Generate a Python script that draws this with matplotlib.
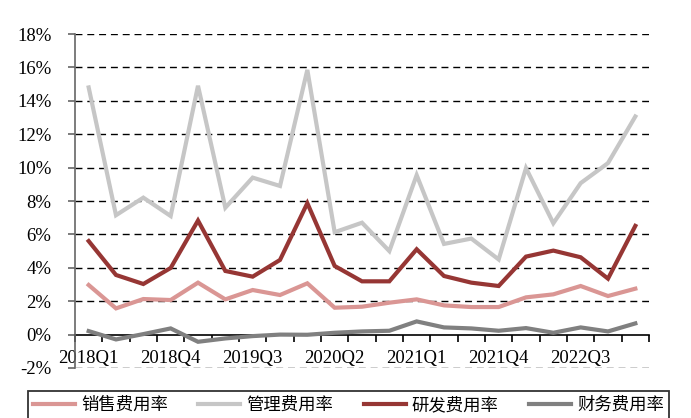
import matplotlib
matplotlib.use("Agg")
import matplotlib.pyplot as plt
import numpy as np

quarters = ["2018Q1", "2018Q2", "2018Q3", "2018Q4", "2019Q1", "2019Q2", "2019Q3",
            "2019Q4", "2020Q1", "2020Q2", "2020Q3", "2020Q4", "2021Q1", "2021Q2",
            "2021Q3", "2021Q4", "2022Q1", "2022Q2", "2022Q3", "2022Q4", "2023Q1"]

sales = [2.97, 1.57, 2.13, 2.07, 3.11, 2.11, 2.67, 2.37, 3.07, 1.61, 1.67,
         1.91, 2.11, 1.75, 1.65, 1.65, 2.23, 2.41, 2.91, 2.31, 2.75]
admin = [14.8, 7.15, 8.2, 7.1, 14.9, 7.6, 9.4, 8.9, 15.85, 6.13, 6.7,
         5.0, 9.55, 5.43, 5.75, 4.5, 9.97, 6.67, 9.07, 10.27, 13.06]
rnd = [5.6, 3.57, 3.03, 3.99, 6.83, 3.81, 3.47, 4.47, 7.87, 4.11, 3.19,
       3.19, 5.11, 3.51, 3.11, 2.91, 4.67, 5.03, 4.63, 3.35, 6.51]
fin = [0.21, -0.29, 0.03, 0.37, -0.43, -0.23, -0.09, 0.0, -0.01, 0.11, 0.19,
       0.23, 0.79, 0.43, 0.37, 0.23, 0.39, 0.11, 0.43, 0.19, 0.67]

series_names = ["销售费用率", "管理费用率", "研发费用率", "财务费用率"]
colors = ["#DA9694", "#C6C6C6", "#963634", "#808080"]
yticks = list(range(-2, 20, 2))

plt.rcParams['font.family'] = ['Liberation Serif', 'Noto Sans CJK SC']

fig = plt.figure(figsize=(6.91, 4.18), dpi=100)
ax = fig.add_axes([75/691, 1-368/418, (649-75)/691, (368-34)/418])

x = np.arange(len(quarters))
for vals, c, name in zip([sales, admin, rnd, fin], colors, series_names):
    ax.plot(x, vals, color=c, lw=3.0, label=name, solid_joinstyle='miter', zorder=3)

ax.set_xlim(-0.5, len(quarters) - 0.5)
ax.set_ylim(-2, 18)
ax.set_yticks(yticks)
ax.set_yticklabels([f"{v}%" for v in yticks], fontsize=13.5)
for v in yticks:
    if v != 0:
        ax.axhline(v, color='black', lw=1.0, ls=(0, (5, 3.5)), zorder=1)

ax.spines['top'].set_visible(False)
ax.spines['right'].set_visible(False)
ax.spines['left'].set_color('#666666')
ax.spines['left'].set_linewidth(1.2)
ax.spines['bottom'].set_position(('data', 0))
ax.spines['bottom'].set_color('black')
ax.spines['bottom'].set_linewidth(1.2)
ax.spines['bottom'].set_zorder(2)

ax.tick_params(axis='y', direction='out', length=5, width=1.2, color='#666666', pad=12)
ax.set_xticks(np.arange(-0.5, len(quarters), 1.0))
ax.set_xticklabels([])
ax.tick_params(axis='x', which='major', direction='out', length=5, width=1.2)
ax.set_xticks(x, minor=True)
ax.set_xticklabels([q if i % 3 == 0 else "" for i, q in enumerate(quarters)], minor=True, fontsize=13.5)
ax.tick_params(axis='x', which='minor', length=0, pad=11)

leg = fig.legend(loc='upper center', bbox_to_anchor=(348.5/691, 1-391/418),
                 ncol=4, frameon=True, fancybox=False, edgecolor='black',
                 prop={'family': ['Noto Sans CJK SC'], 'size': 12.5}, handlelength=2.42,
                 handletextpad=0.35, columnspacing=1.75, borderaxespad=0, borderpad=0.3)
leg.get_frame().set_linewidth(1.3)

fig.savefig("out.png", dpi=100)
